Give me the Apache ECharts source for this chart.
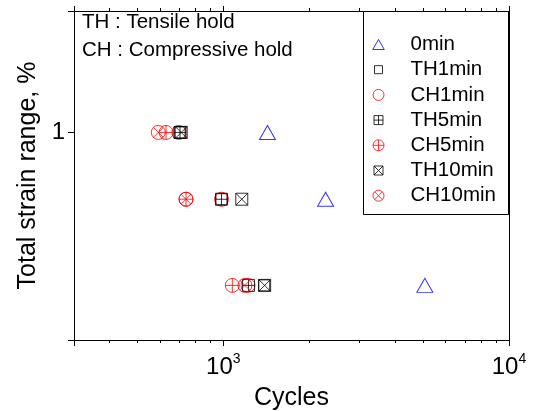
<!DOCTYPE html>
<html>
<head>
<meta charset="utf-8">
<script src="https://cdn.jsdelivr.net/npm/echarts@6/dist/echarts.min.js"></script>
<style>
  html, body { margin: 0; padding: 0; background: #fff; }
  #chart { width: 536px; height: 411px; }
</style>
</head>
<body>
<div id="chart"></div>
<script>
// Total strain range levels (%) for each test group
const strainLevels = [1.0, 0.8, 0.6];

// Cycles to failure at each strain level, one list per hold condition
const cycles0min   = [1427, 2280, 5075];
const cyclesTH1min = [703, 985, 1390];
const cyclesCH1min = [698, 985, 1220];
const cyclesTH5min = [705, 985, 1225];
const cyclesCH5min = [630, 740, 1075];
const cyclesTH10min = [712, 1160, 1395];
const cyclesCH10min = [592, 740, 1190];

const seriesNames = ['0min', 'TH1min', 'CH1min', 'TH5min', 'CH5min', 'TH10min', 'CH10min'];

// Axis ranges and tick positions
const xRange = [300, 10000];
const yRange = [0.5, 1.5];
const xMajorTicks = [300, 1000, 10000];
const xMinorTicks = [400, 500, 600, 700, 800, 900, 2000, 3000, 4000, 5000, 6000, 7000, 8000, 9000];
const xTickLabels = [1000, 10000];
const yMajorTicks = [0.5, 1, 1.5];
const yTickLabels = [1];

const FONT = 'Liberation Sans, Arial, sans-serif';

const SYM = {
  triangle: 'path://M5,0L10,8.66L0,8.66Z',
  square: 'path://M0,0L10,0L10,10L0,10Z',
  circle: 'path://M0,5A5,5,0,1,1,10,5A5,5,0,1,1,0,5Z',
  squarePlus: 'path://M0,0L10,0L10,10L0,10Z M5,0L5,10 M0,5L10,5',
  circlePlus: 'path://M0,5A5,5,0,1,1,10,5A5,5,0,1,1,0,5Z M5,0L5,10 M0,5L10,5',
  squareCross: 'path://M0,0L10,0L10,10L0,10Z M0,0L10,10 M10,0L0,10',
  circleCross: 'path://M0,5A5,5,0,1,1,10,5A5,5,0,1,1,0,5Z M1.464,1.464L8.536,8.536 M8.536,1.464L1.464,8.536'
};

const styles = {
  '0min':   { symbol: SYM.triangle,   color: '#0000ff', size: [16, 14], legend: [12, 10] },
  'TH1min': { symbol: SYM.square,     color: '#000000', size: 11, legend: [8, 8] },
  'CH1min': { symbol: SYM.circle,     color: '#ff0000', size: 14, legend: [11, 11] },
  'TH5min': { symbol: SYM.squarePlus, color: '#000000', size: 12, legend: [9, 9] },
  'CH5min': { symbol: SYM.circlePlus, color: '#ff0000', size: 14, legend: [11, 11] },
  'TH10min': { symbol: SYM.squareCross, color: '#000000', size: 12, legend: [9, 9] },
  'CH10min': { symbol: SYM.circleCross, color: '#ff0000', size: 14, legend: [11, 11] }
};

const cycleData = {
  '0min': cycles0min, 'TH1min': cyclesTH1min, 'CH1min': cyclesCH1min,
  'TH5min': cyclesTH5min, 'CH5min': cyclesCH5min, 'TH10min': cyclesTH10min,
  'CH10min': cyclesCH10min
};

const series = seriesNames.map(function (name) {
  const st = styles[name];
  return {
    name: name,
    type: 'scatter',
    symbol: st.symbol,
    symbolSize: st.size,
    itemStyle: { color: 'transparent', borderColor: st.color, borderWidth: 1 },
    emphasis: { disabled: true },
    data: cycleData[name].map(function (c, i) { return [c, strainLevels[i]]; })
  };
});

const axisLine = { show: true, lineStyle: { color: '#000', width: 1 } };

function xAxisDef(position, ticks, len, labels) {
  return {
    type: 'log', logBase: 10, position: position,
    min: xRange[0], max: xRange[1],
    axisLine: axisLine,
    splitLine: { show: false },
    axisTick: { show: true, customValues: ticks, length: len, lineStyle: { color: '#000' } },
    axisLabel: labels ? {
      show: true, customValues: labels, margin: 12,
      formatter: function (v) { return '{b|10}{s|' + Math.round(Math.log10(v)) + '}'; },
      rich: {
        b: { fontSize: 24, fontFamily: FONT, color: '#000' },
        s: { fontSize: 14, fontFamily: FONT, color: '#000', padding: [0, 0, 16, 0] }
      }
    } : { show: false }
  };
}

// Legend keys share one box; each path is padded so its visible key keeps its own size
const LEGEND_BOX = 12;

const option = {
  animation: false,
  backgroundColor: '#fff',
  grid: { left: 74, right: 27, top: 11, bottom: 71, containLabel: false, outerBoundsMode: 'none' },
  xAxis: [
    Object.assign(xAxisDef('bottom', xMajorTicks, 6, xTickLabels), {
      name: 'Cycles', nameLocation: 'middle', nameGap: 46,
      nameTextStyle: { fontSize: 25, fontFamily: FONT, color: '#000' }
    }),
    xAxisDef('bottom', xMinorTicks, 3, null),
    xAxisDef('top', xMajorTicks, 5, null),
    xAxisDef('top', xMinorTicks, 3, null)
  ],
  yAxis: [
    {
      type: 'log', logBase: 10, position: 'left',
      min: yRange[0], max: yRange[1],
      axisLine: axisLine,
      splitLine: { show: false },
      axisTick: { show: true, customValues: yMajorTicks, length: 6, lineStyle: { color: '#000' } },
      axisLabel: {
        show: true, customValues: yTickLabels, margin: 9,
        fontSize: 24, fontFamily: FONT, color: '#000',
        formatter: function (v) { return String(v); }
      },
      name: 'Total strain range, %', nameLocation: 'middle', nameGap: 31,
      nameTextStyle: { fontSize: 25, fontFamily: FONT, color: '#000' }
    },
    {
      type: 'log', logBase: 10, position: 'right',
      min: yRange[0], max: yRange[1],
      axisLine: axisLine,
      splitLine: { show: false },
      axisTick: { show: false },
      axisLabel: { show: false }
    }
  ],
  legend: {
    orient: 'vertical',
    left: 372, top: 34,
    padding: 0,
    itemWidth: LEGEND_BOX, itemHeight: LEGEND_BOX, itemGap: 4.2,
    selectedMode: false,
    textStyle: { fontSize: 20.5, fontFamily: FONT, color: '#000', padding: [0, 0, 0, 21] },
    data: seriesNames.map(function (name) {
      const st = styles[name];
      const w = st.legend[0], h = st.legend[1];
      const sx = (LEGEND_BOX - w) / 2 / w * 10, sy = (LEGEND_BOX - h) / 2 / h * 10;
      const body = st.symbol.replace('path://', '');
      const ymax = name === '0min' ? 8.66 : 10;
      const padded = 'path://M' + (-sx) + ',' + (-sy * ymax / 10) + ' ' + body +
        ' M' + (10 + sx) + ',' + (ymax + sy * ymax / 10);
      return {
        name: name,
        icon: padded,
        itemStyle: { color: 'transparent', borderColor: st.color, borderWidth: 1 }
      };
    })
  },
  graphic: [
    {
      type: 'rect', silent: true, z: 100,
      shape: { x: 363.5, y: 11.5, width: 145, height: 203 },
      style: { fill: 'none', stroke: '#000', lineWidth: 1 }
    },
    {
      type: 'text', left: 82, top: 12, z: 100,
      style: { text: 'TH : Tensile hold', fontSize: 20.5, fontFamily: FONT, fill: '#000' }
    },
    {
      type: 'text', left: 82, top: 40, z: 100,
      style: { text: 'CH : Compressive hold', fontSize: 20.5, fontFamily: FONT, fill: '#000' }
    }
  ],
  series: series
};

const chart = echarts.init(document.getElementById('chart'), null, { renderer: 'canvas' });
chart.setOption(option);
</script>
</body>
</html>
